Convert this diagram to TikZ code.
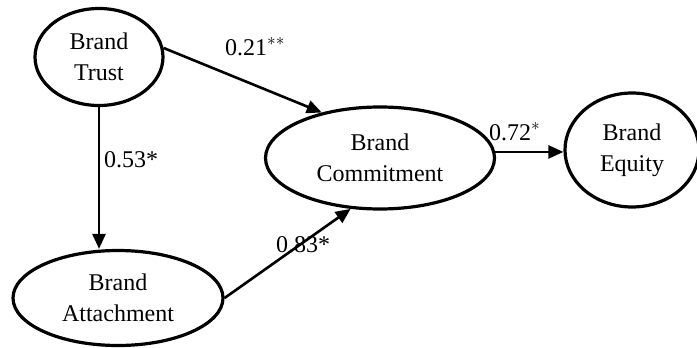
\documentclass[tikz,border=0pt]{standalone}
\usepackage{fontspec}
\setmainfont{Liberation Serif}
\usetikzlibrary{arrows.meta,shapes.geometric}
\tikzset{construct/.style={ellipse, draw=black, line width=3.2pt, inner sep=0pt,
    align=center, font=\fontsize{24}{31}\selectfont},
  path arrow/.style={line width=2.6pt, -{Triangle[length=15pt,width=13pt]}},
  coef/.style={font=\fontsize{24}{28}\selectfont, inner sep=0pt, anchor=base west}}

\begin{document}
\begin{tikzpicture}[x=1pt,y=-1pt]
    \useasboundingbox (0,0) rectangle (697,348);
    \coordinate (C1) at (99,57);   % trust
    \coordinate (C2) at (380,158); % commitment
    \coordinate (C3) at (118,298); % attachment
    \coordinate (C4) at (632,150); % equity

    \node[construct, minimum width=128pt, minimum height=97pt] (trust) at (C1) {Brand\\Trust};
    \node[construct, minimum width=229pt, minimum height=102pt] (commit) at (C2) {Brand\\Commitment};
    \node[construct, minimum width=210pt, minimum height=95pt] (attach) at (C3) {Brand\\Attachment};
    \node[construct, minimum width=134pt, minimum height=114pt] (equity) at (C4) {Brand\\Equity};

    \draw[path arrow] (trust.8) -- (commit.142);
    \draw[path arrow] (trust) -- (trust |- attach.north);
    \draw[path arrow] (attach.east) -- (commit.240);
    \draw[path arrow] (commit.3) -- (commit.3 -| equity.west);

    \node[coef] (b21) at (225,55) {0.21$^{**}$};
    \node[coef] (b53) at (104,167) {0.53*};
    \node[coef] (b83) at (276,252) {0.83*};
    \node[coef] (b72) at (489,140) {0.72$^{*}$};
% ---- \draw[red] (0,0) grid[step=50] (697,348);
\end{tikzpicture}
\end{document}
